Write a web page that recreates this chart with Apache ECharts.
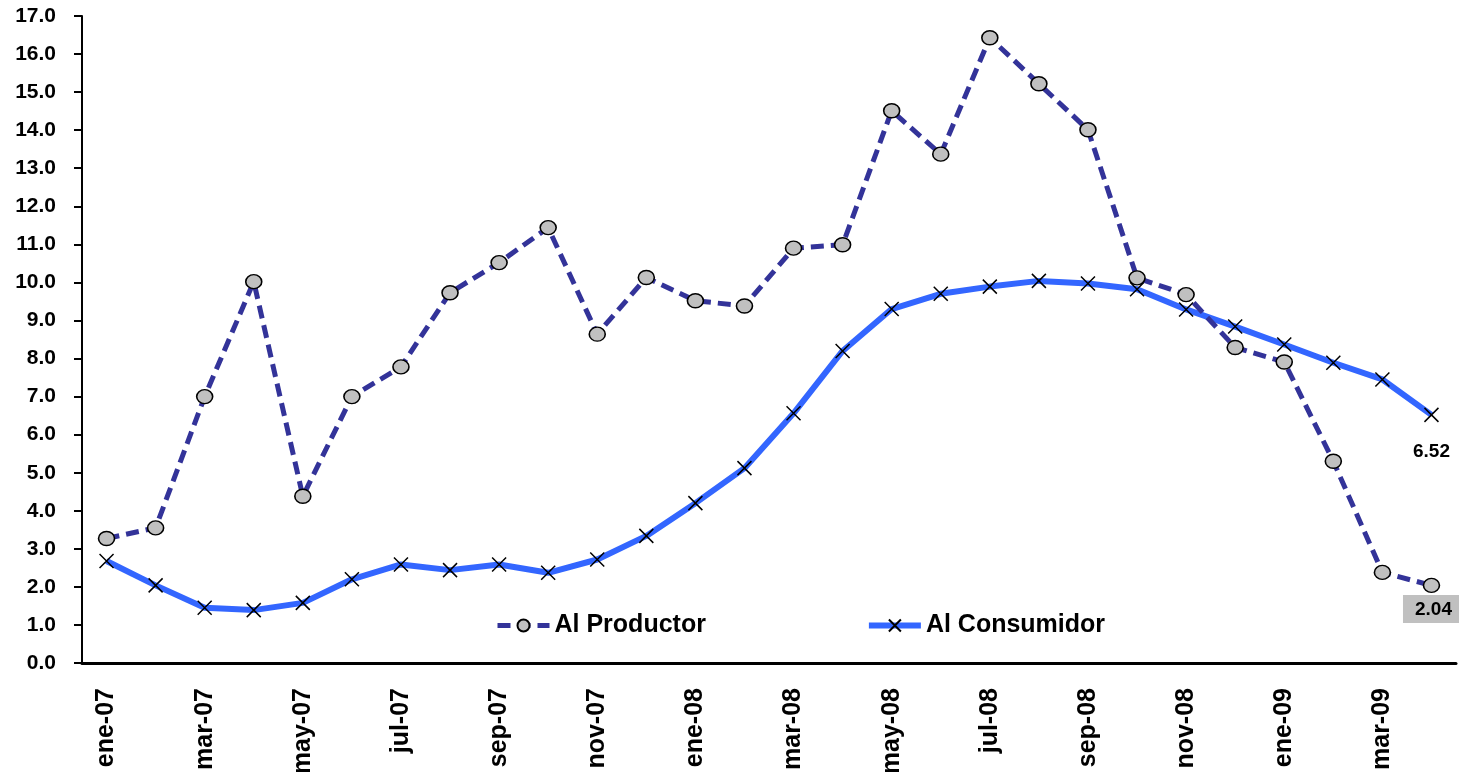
<!DOCTYPE html>
<html>
<head>
    <meta charset="utf-8">
    <title>Al Productor / Al Consumidor</title>
    <script src="https://cdn.jsdelivr.net/npm/echarts@6/dist/echarts.min.js"></script>
    <style>
        html, body { margin: 0; padding: 0; background: #fff; }
    </style>
</head>
<body>
    <div id="chart" style="width: 1459px;height:772px;"></div>

    <script>
        // meses (ene-07 .. abr-09)
        const months = [
            'ene-07', 'feb-07', 'mar-07', 'abr-07', 'may-07', 'jun-07', 'jul-07', 'ago-07', 'sep-07', 'oct-07', 'nov-07', 'dic-07',
            'ene-08', 'feb-08', 'mar-08', 'abr-08', 'may-08', 'jun-08', 'jul-08', 'ago-08', 'sep-08', 'oct-08', 'nov-08', 'dic-08',
            'ene-09', 'feb-09', 'mar-09', 'abr-09'
        ];

        const productor = [
            3.27, 3.55, 7.00, 10.02, 4.38, 7.00, 7.78, 9.73, 10.52, 11.44, 8.64, 10.13,
            9.52, 9.38, 10.90, 10.99, 14.51, 13.37, 16.43, 15.22, 14.01, 10.12, 9.68, 8.29,
            7.91, 5.30, 2.38, 2.04
        ];

        const consumidor = [
            2.68, 2.04, 1.45, 1.39, 1.58, 2.20, 2.59, 2.44, 2.59, 2.37, 2.72, 3.34,
            4.20, 5.12, 6.56, 8.20, 9.30, 9.70, 9.89, 10.04, 9.97, 9.82, 9.29, 8.84,
            8.37, 7.89, 7.45, 6.52
        ];

        const yTicks = { min: 0, max: 17, interval: 1 };

        const chart = echarts.init(document.getElementById('chart'));
        const font = '"Liberation Sans", Arial, sans-serif';

        // solo el ultimo punto lleva etiqueta
        function lastLabel(arr, labelOpt) {
            return arr.map(function (v, i) {
                if (i !== arr.length - 1) return v;
                return { value: v, label: labelOpt };
            });
        }

        const crossPath = 'path://M0,0L10,10M10,0L0,10';
        const prodLine = { color: '#333399', width: 5, type: [13, 7] };
        const consLine = { color: '#3366ff', width: 6 };

        const option = {
            animation: false,
            textStyle: { fontFamily: font },
            grid: { left: 82, right: 3, top: 16, bottom: 109, outerBoundsMode: 'none', containLabel: false },
            legend: {
                left: 490,
                top: 608,
                itemWidth: 52,
                itemHeight: 15,
                itemGap: 160,
                textStyle: { fontSize: 25, fontWeight: 'bold', color: '#000', fontFamily: font },
                data: [
                    { name: 'Al Productor', lineStyle: prodLine },
                    { name: 'Al Consumidor', lineStyle: consLine }
                ]
            },
            xAxis: {
                type: 'category',
                data: months,
                boundaryGap: true,
                axisLine: { lineStyle: { color: '#000', width: 3 } },
                axisTick: { interval: 1, length: 8, lineStyle: { color: '#000', width: 2 } },
                axisLabel: {
                    interval: 1,
                    rotate: 90,
                    margin: 25,
                    fontSize: 25,
                    fontWeight: 'bold',
                    color: '#000',
                    fontFamily: font
                }
            },
            yAxis: {
                type: 'value',
                min: yTicks.min,
                max: yTicks.max,
                interval: yTicks.interval,
                splitLine: { show: false },
                axisLine: { show: true, lineStyle: { color: '#000', width: 2 } },
                axisTick: { show: true, length: 8, lineStyle: { color: '#000', width: 2 } },
                axisLabel: {
                    margin: 26,
                    fontSize: 21,
                    fontWeight: 'bold',
                    color: '#000',
                    fontFamily: font,
                    formatter: function (v) { return v.toFixed(1); }
                }
            },
            series: [
                {
                    name: 'Al Productor',
                    type: 'line',
                    symbol: 'circle',
                    symbolSize: [16, 14],
                    z: 3,
                    lineStyle: prodLine,
                    itemStyle: { color: '#c0c0c0', borderColor: '#000', borderWidth: 1.5 },
                    data: lastLabel(productor, {
                        show: true,
                        position: 'bottom',
                        distance: 2,
                        formatter: function (p) { return p.value.toFixed(2); },
                        fontSize: 19,
                        fontWeight: 'bold',
                        color: '#000',
                        backgroundColor: '#c0c0c0',
                        padding: [5, 8, 4, 12]
                    })
                },
                {
                    name: 'Al Consumidor',
                    type: 'line',
                    symbol: crossPath,
                    symbolSize: 14,
                    z: 2,
                    lineStyle: consLine,
                    itemStyle: { color: '#000', borderColor: '#000', borderWidth: 1.5 },
                    data: lastLabel(consumidor, {
                        show: true,
                        position: 'bottom',
                        distance: 20,
                        formatter: function (p) { return p.value.toFixed(2); },
                        fontSize: 19,
                        fontWeight: 'bold',
                        color: '#000'
                    })
                }
            ]
        };

        chart.setOption(option);
    </script>
</body>
</html>
